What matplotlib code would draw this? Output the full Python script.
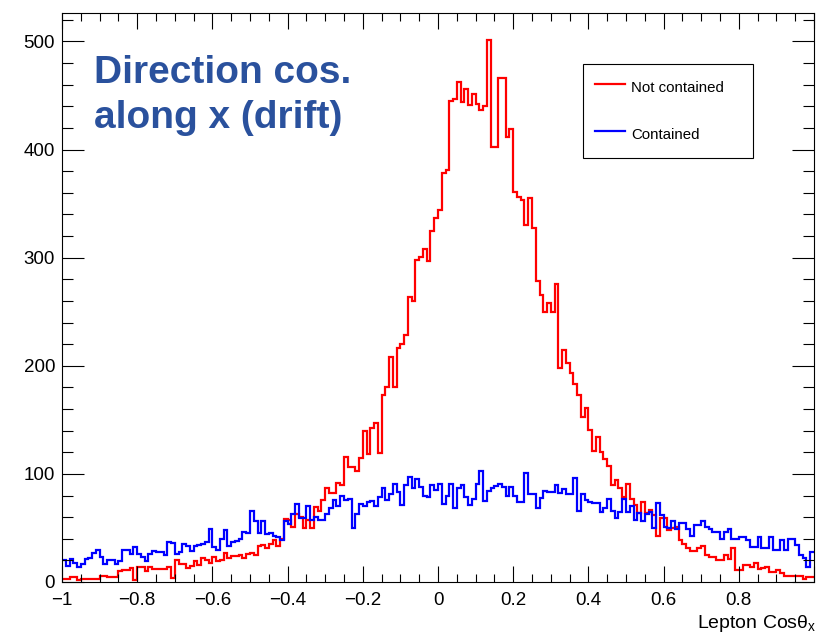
import numpy as np
import matplotlib.pyplot as plt
from matplotlib.ticker import MultipleLocator, FuncFormatter
from matplotlib.lines import Line2D

plt.rcParams['font.family'] = ['Liberation Sans', 'DejaVu Sans']
plt.rcParams['mathtext.fontset'] = 'custom'
plt.rcParams['mathtext.rm'] = 'Liberation Sans'
plt.rcParams['mathtext.it'] = 'Liberation Sans:italic'
plt.rcParams['mathtext.bf'] = 'Liberation Sans:bold'

# histogram binning: 200 bins on [-1, 1]
x_min, x_max = -1.0, 1.0
n_bins = 200

# counts per bin
not_contained = [
    3, 3, 5, 5, 2, 3, 3, 3, 3, 3,
    6, 6, 5, 5, 5, 10, 11, 11, 13, 2,
    14, 14, 10, 14, 12, 12, 12, 12, 14, 4,
    20, 17, 17, 13, 15, 19, 16, 22, 20, 18,
    23, 19, 20, 27, 22, 24, 24, 25, 22, 26,
    27, 25, 33, 34, 31, 35, 39, 33, 40, 58,
    57, 51, 63, 60, 50, 57, 50, 69, 66, 76,
    87, 82, 82, 92, 90, 116, 106, 106, 103, 115,
    140, 118, 142, 147, 119, 173, 180, 208, 180, 216,
    220, 228, 264, 260, 298, 301, 308, 297, 325, 337,
    344, 378, 381, 445, 447, 462, 444, 456, 441, 451,
    442, 437, 440, 501, 402, 402, 466, 466, 412, 419,
    361, 356, 353, 330, 355, 327, 278, 265, 250, 258,
    250, 276, 198, 215, 203, 193, 183, 173, 153, 161,
    141, 121, 134, 120, 114, 107, 90, 94, 87, 79,
    91, 77, 71, 64, 74, 64, 67, 62, 43, 59,
    59, 48, 50, 51, 39, 35, 31, 29, 29, 31,
    33, 25, 23, 23, 20, 20, 25, 21, 31, 11,
    11, 16, 16, 14, 18, 12, 13, 14, 9, 9,
    11, 8, 6, 6, 6, 6, 6, 3, 5, 5,
]

contained = [
    20, 15, 21, 18, 14, 17, 21, 22, 27, 30,
    23, 17, 20, 20, 17, 19, 30, 30, 26, 32,
    26, 23, 19, 26, 29, 28, 28, 25, 37, 36,
    26, 28, 35, 33, 29, 33, 34, 35, 37, 49,
    32, 30, 40, 48, 33, 37, 38, 40, 46, 45,
    66, 56, 45, 56, 44, 45, 43, 42, 39, 56,
    54, 63, 72, 59, 59, 70, 57, 60, 57, 57,
    63, 68, 76, 70, 80, 76, 77, 50, 63, 72,
    70, 74, 75, 70, 79, 87, 76, 81, 91, 83,
    71, 90, 97, 87, 95, 88, 80, 79, 90, 85,
    91, 72, 80, 91, 68, 87, 90, 79, 71, 77,
    91, 103, 75, 84, 87, 89, 91, 88, 80, 88,
    80, 74, 74, 101, 81, 81, 68, 78, 84, 83,
    83, 90, 82, 86, 81, 81, 96, 66, 81, 76,
    74, 73, 73, 65, 68, 77, 66, 59, 65, 77,
    65, 70, 57, 64, 56, 63, 65, 50, 73, 62,
    51, 50, 56, 49, 55, 55, 49, 43, 53, 53,
    56, 51, 49, 46, 46, 40, 46, 49, 40, 40,
    42, 42, 39, 32, 32, 42, 31, 31, 42, 30,
    30, 39, 30, 40, 40, 34, 25, 22, 14, 28,
]

labels = ['Not contained', 'Contained']
colors = ['#ff0000', '#0000ff']

edges = np.linspace(x_min, x_max, n_bins + 1)

fig = plt.figure(figsize=(8.18, 6.38), dpi=100)
ax = fig.add_axes([62 / 818, 1 - 582 / 638, 752 / 818, 568.7 / 638])

for vals, c in zip([not_contained, contained], colors):
    ax.stairs(vals, edges, color=c, lw=1.6, baseline=None)

ax.set_xlim(x_min, x_max)
ax.set_ylim(0, 526)

# ROOT-like ticks: inside, on all four sides
ax.xaxis.set_major_locator(MultipleLocator(0.2))
ax.xaxis.set_minor_locator(MultipleLocator(0.05))
ax.yaxis.set_major_locator(MultipleLocator(100))
ax.yaxis.set_minor_locator(MultipleLocator(20))


def xfmt(v, pos):
    v = round(v, 2)
    if v > 0.99:
        return ''
    if abs(v) < 1e-9:
        return '0'
    return f'{v:g}'.replace('-', '\u2212')


ax.xaxis.set_major_formatter(FuncFormatter(xfmt))
ax.tick_params(axis='x', which='major', direction='in', top=True,
               length=11.5, width=0.8, labelsize=13.5, pad=7)
ax.tick_params(axis='x', which='minor', direction='in', top=True,
               length=5.8, width=0.8)
ax.tick_params(axis='y', which='major', direction='in', right=True,
               length=16, width=0.8, labelsize=13.5, pad=5)
ax.tick_params(axis='y', which='minor', direction='in', right=True,
               length=8, width=0.8)
for s in ax.spines.values():
    s.set_linewidth(0.8)

fig.text(816 / 818, 1 - 628 / 638, 'Lepton Cos$\\mathrm{\\theta_{x}}$',
         ha='right', va='baseline', fontsize=14)

fig.text(94 / 818, 1 - 55 / 638, 'Direction cos.\nalong x (drift)',
         ha='left', va='top', fontsize=28, fontweight='bold',
         color='#2a519d', linespacing=1.33)

handles = [Line2D([], [], color=c, lw=1.6) for c in colors]
leg = ax.legend(handles, labels, loc='upper left',
                bbox_to_anchor=(0.693, 0.749, 0.226, 0.162), mode='expand',
                fontsize=10.8, frameon=True, fancybox=False,
                edgecolor='black', framealpha=1, borderpad=0.8,
                labelspacing=1.6, handlelength=2.0, handletextpad=0.4,
                handleheight=2.0, borderaxespad=0)
leg.get_frame().set_linewidth(0.8)

fig.savefig('out.png', dpi=100)
